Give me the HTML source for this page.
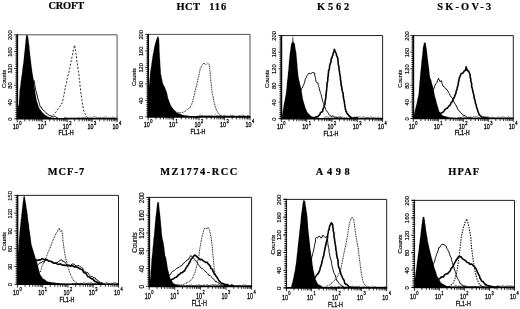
<!DOCTYPE html>
<html lang="en"><head><meta charset="utf-8"><title>Flow cytometry histograms</title>
<style>
html,body{margin:0;padding:0;background:#fff;}
body{width:520px;height:309px;overflow:hidden;}
svg{display:block;}
.tt{font-family:"Liberation Serif",serif;font-weight:bold;font-size:10.4px;fill:#000;stroke:#000;stroke-width:0.2px;}
.yl{font-family:"Liberation Sans",sans-serif;fill:#000;stroke:#000;stroke-width:0.16px;}
.xl{font-family:"Liberation Sans",sans-serif;fill:#000;stroke:#000;stroke-width:0.3px;}
.sup{font-size:4.7px;}
</style></head><body>
<svg width="520" height="309" viewBox="0 0 520 309">
<defs><filter id="b" x="-5%" y="-5%" width="110%" height="110%"><feGaussianBlur stdDeviation="0.42"/></filter></defs>
<rect width="520" height="309" fill="#fff"/>
<g filter="url(#b)">
<g class="plot">
<text class="tt" x="48.5" y="9.0" letter-spacing="-0.2">CROFT</text>
<path d="M17.4 118.8L17.4 119.2L17.4 117.2L17.4 115.2L17.5 113.3L17.4 111.1L17.4 109.0L17.6 106.9L18.9 104.7L19.1 102.8L19.1 100.6L19.2 98.8L19.4 96.9L19.5 94.7L19.6 93.2L19.6 91.2L19.9 89.0L20.2 87.6L20.5 85.4L20.7 83.5L20.8 81.7L21.2 79.9L21.3 77.8L21.6 76.1L22.0 74.2L22.2 72.5L22.3 70.7L22.6 68.7L22.8 66.8L23.1 65.0L23.5 62.8L23.6 61.2L23.8 59.0L24.1 56.9L24.2 54.8L24.4 53.0L24.7 51.1L24.9 49.1L25.1 46.9L25.3 44.6L25.5 42.7L25.7 40.4L25.9 38.5L26.1 37.0L26.3 35.1L27.8 35.4L28.0 36.9L28.3 38.5L28.5 40.4L28.7 42.3L28.9 44.2L29.3 46.1L29.3 48.0L29.6 49.6L29.7 51.5L30.0 53.4L30.2 55.7L30.4 57.4L30.6 59.3L30.9 61.2L31.0 63.1L31.3 64.9L31.5 66.5L31.8 68.6L32.0 70.5L32.3 72.5L32.6 74.3L32.9 76.0L33.2 77.9L33.5 79.3L33.8 81.4L34.0 83.2L34.2 85.1L34.6 87.0L34.7 88.8L35.0 90.8L35.2 92.9L35.7 95.0L35.9 96.5L36.2 98.3L36.5 100.0L37.1 102.0L37.8 103.9L38.3 106.1L39.1 108.1L40.0 109.5L41.0 110.5L41.9 111.9L43.3 113.2L44.7 114.7L46.0 115.6L48.0 116.7L50.0 117.5L52.0 117.8L54.0 118.1L56.0 118.3L58.0 118.7L60.0 118.8L62.1 118.9L64.0 118.8L64.0 118.8Z" fill="#000" stroke="#000" stroke-width="0.15" stroke-linejoin="round"/>
<path d="M64.0 118.0L64.9 117.4L66.5 118.1L67.8 117.8L69.0 118.1L70.2 118.1L71.6 117.8L72.4 118.1L73.5 117.8L75.0 118.1L76.6 118.1L77.5 117.8L78.6 117.4L80.2 118.1L81.3 117.4L82.5 117.4L83.5 118.1L84.4 117.0L85.5 117.0L86.5 118.1L87.9 118.1L89.5 117.4L90.4 117.0L91.8 118.1L93.1 117.0L94.5 117.0L95.9 117.0L97.0 117.8L98.2 117.8L99.8 117.4L101.2 118.1L102.7 117.4L103.7 117.4L105.1 117.0L106.6 117.0L107.6 118.1L108.9 117.8L109.8 117.8L111.2 118.1L112.6 117.0L114.1 117.8L115.3 118.1L116.6 117.0" fill="none" stroke="#000" stroke-width="0.6"/>
<path d="M50.0 117.7L51.0 117.0L51.9 116.4L53.1 115.4L54.0 114.3L54.7 113.5L55.7 112.1L56.4 111.5L57.3 110.0L58.0 108.9L58.7 108.1L59.5 107.2L60.2 106.1L60.8 105.1L61.4 104.0L62.3 102.9L62.5 101.8L62.8 100.5L63.2 99.1L63.3 97.7L63.6 96.6L63.8 95.5L64.1 94.4L64.3 93.1L64.5 91.8L64.8 90.7L65.0 89.1L65.2 88.1L65.5 86.8L65.7 85.4L66.0 84.4L66.4 83.4L66.6 82.1L66.9 80.6L67.0 79.3L67.3 78.2L67.6 76.8L67.8 76.1L68.3 74.5L68.5 73.5L68.9 72.3L69.2 71.2L69.6 69.9L69.7 68.5L69.9 67.6L70.2 66.2L70.4 65.2L70.6 63.9L71.0 62.6L71.1 61.3L71.3 60.1L71.6 58.8L71.9 57.8L72.1 56.2L72.5 55.0L72.7 54.1L72.9 52.3L73.2 51.3L73.3 49.9L73.8 48.8L74.0 47.4L74.3 46.0L74.6 45.2L74.8 46.2L75.1 48.0L75.3 49.1L75.6 50.4L75.8 51.8L75.9 53.2L76.1 54.3L76.3 55.5L76.4 57.1L76.5 58.3L76.6 59.6L76.8 60.6L77.0 61.6L77.1 62.9L77.5 64.2L77.6 65.7L77.7 67.1L78.0 68.2L78.1 69.4L78.4 70.5L78.4 71.8L78.7 73.0L78.9 74.3L79.1 75.8L79.3 77.2L79.2 78.2L79.4 79.4L79.6 80.8L79.8 82.4L79.9 83.5L80.0 84.9L80.1 86.3L80.4 87.9L80.5 88.9L80.6 90.1L80.7 91.7L80.9 92.8L81.1 94.1L81.3 95.6L81.5 96.9L81.7 97.8L81.8 99.3L82.0 100.5L82.2 101.6L82.3 102.9L82.5 104.4L82.7 105.7L83.0 106.9L83.2 108.3L83.4 109.6L83.6 111.0L84.3 111.9L84.8 113.3L85.3 114.2L85.8 115.4L86.2 116.2L87.4 117.3L88.3 118.0" fill="none" stroke="#000" stroke-width="0.9" stroke-dasharray="1.9 1.7" stroke-linejoin="round"/>
<path d="M33.8 80.0L34.1 80.9L34.5 82.1L34.6 83.4L34.8 85.5L35.2 86.8L35.4 87.6L35.5 88.9L35.8 90.6L36.3 91.9L36.3 92.0L36.8 93.8L37.0 94.8L37.4 96.3L37.6 98.2L37.9 98.6L38.4 100.1L38.8 101.4L39.2 103.2L39.6 104.3L39.7 105.2L40.3 106.9L41.0 106.6L41.7 108.0L42.5 109.6L43.4 110.4L44.1 110.4L45.0 111.6L46.2 112.9L47.2 114.0L48.2 114.6L49.4 115.4L50.7 115.6L52.2 116.5L53.4 116.9L54.4 116.3L55.6 116.7L56.8 117.7L58.0 118.0" fill="none" stroke="#000" stroke-width="0.95" stroke-linejoin="round"/>
<path d="M17.25 34.8H117.1V118.8" fill="none" stroke="#505050" stroke-width="1.0"/>
<path d="M17.25 34.3V118.8" fill="none" stroke="#000" stroke-width="1.75"/>
<path d="M16.45 118.8H117.6" fill="none" stroke="#000" stroke-width="1.6"/>
<path d="M14.2 118.8H17.2M15.3 116.7H17.2M15.3 114.6H17.2M15.3 112.5H17.2M15.3 110.4H17.2M15.3 108.3H17.2M15.3 106.2H17.2M15.3 104.1H17.2M14.2 102.0H17.2M15.3 99.9H17.2M15.3 97.8H17.2M15.3 95.7H17.2M15.3 93.6H17.2M15.3 91.5H17.2M15.3 89.4H17.2M15.3 87.3H17.2M14.2 85.2H17.2M15.3 83.1H17.2M15.3 81.0H17.2M15.3 78.9H17.2M15.3 76.8H17.2M15.3 74.7H17.2M15.3 72.6H17.2M15.3 70.5H17.2M14.2 68.4H17.2M15.3 66.3H17.2M15.3 64.2H17.2M15.3 62.1H17.2M15.3 60.0H17.2M15.3 57.9H17.2M15.3 55.8H17.2M15.3 53.7H17.2M14.2 51.6H17.2M15.3 49.5H17.2M15.3 47.4H17.2M15.3 45.3H17.2M15.3 43.2H17.2M15.3 41.1H17.2M15.3 39.0H17.2M15.3 36.9H17.2M14.2 34.8H17.2" stroke="#000" stroke-width="0.85" fill="none"/>
<path d="M17.2 118.8V122.2M24.8 118.8V121.3M29.2 118.8V121.3M32.3 118.8V121.3M34.7 118.8V121.3M36.7 118.8V121.3M38.3 118.8V121.3M39.8 118.8V121.3M41.1 118.8V121.3M42.2 118.8V122.2M49.7 118.8V121.3M54.1 118.8V121.3M57.2 118.8V121.3M59.7 118.8V121.3M61.6 118.8V121.3M63.3 118.8V121.3M64.8 118.8V121.3M66.0 118.8V121.3M67.2 118.8V122.2M74.7 118.8V121.3M79.1 118.8V121.3M82.2 118.8V121.3M84.6 118.8V121.3M86.6 118.8V121.3M88.3 118.8V121.3M89.7 118.8V121.3M91.0 118.8V121.3M92.1 118.8V122.2M99.7 118.8V121.3M104.0 118.8V121.3M107.2 118.8V121.3M109.6 118.8V121.3M111.6 118.8V121.3M113.2 118.8V121.3M114.7 118.8V121.3M116.0 118.8V121.3M117.1 118.8V122.2" stroke="#000" stroke-width="0.8" fill="none"/>
<text class="yl" font-size="5.7" transform="translate(12.3 35.2) rotate(-90)" text-anchor="middle">200</text>
<text class="yl" font-size="5.7" transform="translate(12.3 52.0) rotate(-90)" text-anchor="middle">160</text>
<text class="yl" font-size="5.7" transform="translate(12.3 68.8) rotate(-90)" text-anchor="middle">120</text>
<text class="yl" font-size="5.7" transform="translate(12.3 85.6) rotate(-90)" text-anchor="middle">80</text>
<text class="yl" font-size="5.7" transform="translate(12.3 102.4) rotate(-90)" text-anchor="middle">40</text>
<text class="yl" font-size="5.7" transform="translate(12.3 119.2) rotate(-90)" text-anchor="middle">0</text>
<text class="yl" font-size="5.7" transform="translate(5.5 78.9) rotate(-90)" text-anchor="middle">Counts</text>
<text class="xl" font-size="6.7" transform="translate(12.8 128.8) scale(0.806 1)">10<tspan font-size="5.0" dx="0.6" dy="-3.7">0</tspan></text>
<text class="xl" font-size="6.7" transform="translate(37.7 128.8) scale(0.806 1)">10<tspan font-size="5.0" dx="0.6" dy="-3.7">1</tspan></text>
<text class="xl" font-size="6.7" transform="translate(62.7 128.8) scale(0.806 1)">10<tspan font-size="5.0" dx="0.6" dy="-3.7">2</tspan></text>
<text class="xl" font-size="6.7" transform="translate(87.6 128.8) scale(0.806 1)">10<tspan font-size="5.0" dx="0.6" dy="-3.7">3</tspan></text>
<text class="xl" font-size="6.7" transform="translate(112.6 128.8) scale(0.806 1)">10<tspan font-size="5.0" dx="0.6" dy="-3.7">4</tspan></text>
<text class="xl" font-size="6.7" transform="translate(66.1 134.9) scale(0.806 1)" text-anchor="middle">FL1-H</text>
</g>
<g class="plot">
<text class="tt" x="176.5" y="10.0" letter-spacing="0.5">HCT <tspan x="209.2" letter-spacing="1.0">116</tspan></text>
<path d="M148.4 116.9L148.4 116.7L148.4 114.6L148.4 112.7L148.5 110.4L148.5 108.1L148.5 106.2L148.5 103.8L148.6 101.8L148.5 100.1L148.7 98.2L148.7 96.1L148.6 93.8L148.6 92.0L148.8 89.8L149.0 87.8L149.2 86.0L149.3 84.0L149.5 82.0L149.6 80.0L149.9 78.2L150.0 76.2L150.1 73.9L150.3 71.9L150.6 70.1L150.9 68.2L151.3 66.2L151.5 63.8L151.8 62.2L152.1 60.2L152.5 57.8L152.7 56.1L153.1 53.8L153.6 52.1L153.9 49.6L154.3 47.5L154.7 45.7L155.2 43.5L155.9 41.3L156.6 39.3L157.6 36.6L158.4 36.7L158.8 38.6L159.1 39.9L159.1 41.7L159.2 43.9L159.4 45.4L159.3 47.3L159.4 49.4L159.4 51.0L159.6 52.8L159.7 54.9L159.8 56.9L159.9 59.2L160.1 61.0L160.1 62.8L160.3 65.2L160.3 66.9L160.6 69.1L160.7 70.8L160.7 73.2L160.9 74.6L161.4 76.1L161.6 77.9L162.1 79.9L162.5 82.0L163.0 83.8L163.7 85.3L164.7 87.0L165.3 88.6L165.9 90.2L166.6 91.8L167.1 94.0L167.6 95.8L167.9 98.0L168.8 99.9L169.4 102.2L170.2 104.1L170.9 105.8L172.1 107.3L173.1 109.1L174.4 110.1L175.7 111.7L177.1 113.0L179.0 113.5L181.1 114.4L183.0 115.0L185.1 115.5L187.0 115.5L189.1 116.0L191.1 116.0L193.0 116.4L195.0 116.5L197.0 116.7L197.0 116.9Z" fill="#000" stroke="#000" stroke-width="0.15" stroke-linejoin="round"/>
<path d="M197.0 116.1L198.3 116.2L199.8 115.1L201.3 115.5L202.2 115.1L203.1 116.2L204.7 115.5L206.0 116.2L207.1 115.5L207.9 116.2L208.9 115.5L210.3 115.9L211.2 115.9L212.2 115.5L213.4 116.2L214.5 115.9L215.5 115.1L216.8 115.9L217.9 115.5L218.9 116.2L220.1 115.5L220.9 115.5L221.8 116.2L222.9 116.2L224.0 115.9L224.8 115.1L226.3 116.2L227.4 115.9L228.3 116.2L229.4 115.9L230.9 115.1L232.1 115.5L233.6 115.1L234.6 116.2L236.0 116.2L237.5 116.2L238.4 115.9L239.6 115.5L241.1 116.2L242.4 115.1L243.8 115.5L245.2 116.2L246.6 116.2L248.0 115.1L249.1 116.2" fill="none" stroke="#000" stroke-width="0.6"/>
<path d="M172.0 110.5L173.5 110.7L175.0 111.1L176.1 112.0L177.4 112.3L178.5 112.5L179.8 112.7L181.0 112.9L182.4 112.6L183.9 111.8L185.3 111.1L186.3 110.4L187.4 109.3L188.5 108.5L189.7 107.9L190.2 106.8L190.8 105.5L191.6 104.6L192.1 102.9L192.6 101.7L193.0 100.5L193.1 98.9L193.4 98.0L193.8 96.7L194.3 95.4L194.4 94.1L194.7 93.1L195.0 91.6L195.5 90.0L195.6 88.8L196.0 87.5L196.4 86.1L196.8 85.2L196.9 83.3L197.4 82.5L197.7 80.8L197.9 79.3L198.1 78.0L198.5 77.2L198.9 76.0L199.1 74.3L199.2 72.9L199.7 71.6L200.0 70.3L200.1 68.7L200.6 68.2L201.3 66.5L201.8 65.8L202.1 64.8L203.1 63.9L204.0 63.0L204.7 64.0L205.6 64.9L206.6 63.9L207.5 63.1L208.4 63.8L209.4 64.8L209.3 66.0L209.7 67.2L209.6 68.7L209.7 70.3L210.1 71.8L210.2 73.1L210.3 74.5L210.2 75.3L210.6 77.2L210.7 78.6L210.6 79.5L210.8 81.0L211.0 82.4L211.3 83.8L211.4 85.3L211.4 86.3L211.6 87.5L211.7 89.3L211.9 90.5L212.1 91.6L212.2 93.2L212.6 94.4L212.8 95.5L213.1 96.7L213.4 98.0L213.4 99.0L213.7 100.6L214.1 101.5L214.2 103.3L214.6 104.0L215.0 105.2L215.2 106.5L215.5 108.0L216.1 108.7L216.4 110.2L217.0 110.9L217.7 112.4L218.6 113.2L219.3 114.5L220.2 115.3L221.3 115.9L222.3 115.9L223.4 116.2L224.7 116.4L226.0 116.7" fill="none" stroke="#000" stroke-width="0.95" stroke-dasharray="1.0 0.75" stroke-linejoin="round"/>
<path d="M148.2 34.4H250.0V116.9" fill="none" stroke="#505050" stroke-width="1.0"/>
<path d="M148.2 33.9V116.9" fill="none" stroke="#000" stroke-width="1.75"/>
<path d="M147.39999999999998 116.9H250.5" fill="none" stroke="#000" stroke-width="1.6"/>
<path d="M145.2 116.9H148.2M146.3 114.8H148.2M146.3 112.8H148.2M146.3 110.7H148.2M146.3 108.7H148.2M146.3 106.6H148.2M146.3 104.5H148.2M146.3 102.5H148.2M145.2 100.4H148.2M146.3 98.3H148.2M146.3 96.3H148.2M146.3 94.2H148.2M146.3 92.2H148.2M146.3 90.1H148.2M146.3 88.0H148.2M146.3 86.0H148.2M145.2 83.9H148.2M146.3 81.8H148.2M146.3 79.8H148.2M146.3 77.7H148.2M146.3 75.7H148.2M146.3 73.6H148.2M146.3 71.5H148.2M146.3 69.5H148.2M145.2 67.4H148.2M146.3 65.3H148.2M146.3 63.3H148.2M146.3 61.2H148.2M146.3 59.2H148.2M146.3 57.1H148.2M146.3 55.0H148.2M146.3 53.0H148.2M145.2 50.9H148.2M146.3 48.8H148.2M146.3 46.8H148.2M146.3 44.7H148.2M146.3 42.7H148.2M146.3 40.6H148.2M146.3 38.5H148.2M146.3 36.5H148.2M145.2 34.4H148.2" stroke="#000" stroke-width="0.85" fill="none"/>
<path d="M148.2 116.9V120.3M155.9 116.9V119.4M160.3 116.9V119.4M163.5 116.9V119.4M166.0 116.9V119.4M168.0 116.9V119.4M169.7 116.9V119.4M171.2 116.9V119.4M172.5 116.9V119.4M173.6 116.9V120.3M181.3 116.9V119.4M185.8 116.9V119.4M189.0 116.9V119.4M191.4 116.9V119.4M193.5 116.9V119.4M195.2 116.9V119.4M196.6 116.9V119.4M197.9 116.9V119.4M199.1 116.9V120.3M206.8 116.9V119.4M211.2 116.9V119.4M214.4 116.9V119.4M216.9 116.9V119.4M218.9 116.9V119.4M220.6 116.9V119.4M222.1 116.9V119.4M223.4 116.9V119.4M224.6 116.9V120.3M232.2 116.9V119.4M236.7 116.9V119.4M239.9 116.9V119.4M242.3 116.9V119.4M244.4 116.9V119.4M246.1 116.9V119.4M247.5 116.9V119.4M248.8 116.9V119.4M250.0 116.9V120.3" stroke="#000" stroke-width="0.8" fill="none"/>
<text class="yl" font-size="5.7" transform="translate(142.8 34.8) rotate(-90)" text-anchor="middle">200</text>
<text class="yl" font-size="5.7" transform="translate(142.8 51.3) rotate(-90)" text-anchor="middle">160</text>
<text class="yl" font-size="5.7" transform="translate(142.8 67.8) rotate(-90)" text-anchor="middle">120</text>
<text class="yl" font-size="5.7" transform="translate(142.8 84.3) rotate(-90)" text-anchor="middle">80</text>
<text class="yl" font-size="5.7" transform="translate(142.8 100.8) rotate(-90)" text-anchor="middle">40</text>
<text class="yl" font-size="5.7" transform="translate(142.8 117.3) rotate(-90)" text-anchor="middle">0</text>
<text class="yl" font-size="5.7" transform="translate(136.4 77.1) rotate(-90)" text-anchor="middle">Counts</text>
<text class="xl" font-size="7.0" transform="translate(143.7 127.2) scale(0.771 1)">10<tspan font-size="5.2" dx="0.6" dy="-3.9">0</tspan></text>
<text class="xl" font-size="7.0" transform="translate(169.1 127.2) scale(0.771 1)">10<tspan font-size="5.2" dx="0.6" dy="-3.9">1</tspan></text>
<text class="xl" font-size="7.0" transform="translate(194.6 127.2) scale(0.771 1)">10<tspan font-size="5.2" dx="0.6" dy="-3.9">2</tspan></text>
<text class="xl" font-size="7.0" transform="translate(220.1 127.2) scale(0.771 1)">10<tspan font-size="5.2" dx="0.6" dy="-3.9">3</tspan></text>
<text class="xl" font-size="7.0" transform="translate(245.5 127.2) scale(0.771 1)">10<tspan font-size="5.2" dx="0.6" dy="-3.9">4</tspan></text>
<text class="xl" font-size="7.0" transform="translate(198.0 133.5) scale(0.771 1)" text-anchor="middle">FL1-H</text>
</g>
<g class="plot">
<text class="tt" x="317.1" y="10.4" letter-spacing="2.8">K562</text>
<path d="M282.0 118.7L282.0 117.9L282.2 116.1L282.3 114.4L282.7 112.0L283.1 110.1L283.4 108.2L283.7 106.1L284.0 103.8L284.5 101.8L284.9 99.8L285.2 97.8L285.6 95.9L285.9 94.2L286.3 91.8L286.3 90.0L286.7 88.2L286.8 85.8L287.0 83.8L287.1 82.1L287.3 80.1L287.7 77.8L287.8 76.0L288.0 74.0L288.1 71.9L288.5 70.1L288.6 68.2L288.7 65.9L288.9 64.1L289.0 61.8L289.3 59.9L289.4 58.2L289.7 55.8L289.8 54.0L290.1 51.9L290.5 49.9L290.7 47.8L291.0 45.8L291.3 43.8L292.5 41.4L292.6 39.5L292.7 37.8L293.0 36.2L293.1 38.0L293.3 39.6L293.2 41.4L294.8 44.1L295.0 45.8L295.3 48.1L295.6 49.9L296.0 51.8L296.4 54.2L296.4 56.0L296.7 57.9L296.8 60.2L297.0 61.9L297.2 64.0L297.4 65.9L297.4 68.2L297.7 69.9L297.9 71.9L298.0 74.0L298.3 76.1L298.6 77.9L299.0 80.1L299.5 81.8L299.9 84.0L300.5 86.0L300.9 88.0L301.4 90.2L301.6 91.8L302.0 93.4L302.2 95.1L302.4 96.6L302.7 98.5L303.0 99.8L303.7 102.2L304.3 104.2L304.9 106.0L305.4 107.9L306.2 109.7L307.0 111.7L308.0 113.0L309.0 114.2L311.0 115.9L313.0 117.2L314.7 117.5L316.3 117.8L318.0 118.2L320.0 118.5L322.0 118.7L324.0 118.5L324.0 118.7Z" fill="#000" stroke="#000" stroke-width="0.15" stroke-linejoin="round"/>
<path d="M324.0 117.9L324.9 116.9L326.0 116.9L327.4 116.9L328.3 117.7L329.6 116.9L330.9 116.9L332.1 116.9L333.6 118.0L335.0 117.3L336.2 116.9L337.1 118.0L338.4 116.9L339.7 116.9L341.1 116.9L342.4 117.3L343.7 117.3L345.0 118.0L346.3 117.7L347.4 118.0L348.6 116.9L349.7 117.3L350.7 118.0L351.7 118.0L353.0 117.7L354.2 116.9L355.5 117.7L356.9 117.3L358.2 116.9L359.4 116.9L360.7 117.3L361.7 118.0L363.0 116.9L364.3 116.9L365.8 117.7L367.0 117.3L367.9 117.3L369.4 118.0L370.5 116.9L372.0 117.3L373.4 117.3L374.7 118.0L375.7 117.3L376.6 118.0L377.6 117.3L378.5 116.9L379.7 118.0L380.5 118.0L381.6 118.0" fill="none" stroke="#000" stroke-width="0.6"/>
<path d="M299.5 93.0L300.2 91.6L301.0 90.2L301.7 88.4L302.3 88.0L302.6 86.9L303.4 85.6L304.2 83.6L304.5 82.7L304.9 81.1L305.1 79.8L305.5 78.7L306.0 78.0L306.7 76.4L307.0 75.8L308.1 74.1L308.9 73.4L309.9 73.3L310.8 73.8L312.0 72.7L312.8 72.5L314.8 73.2L314.7 75.1L315.0 76.4L315.5 77.7L315.6 78.3L315.7 79.8L316.1 81.6L316.8 82.8L318.2 83.2L318.2 84.4L318.7 85.5L318.6 86.6L319.2 87.5L319.2 88.6L319.7 90.1L320.2 91.9L320.4 92.6L320.7 93.6L321.1 94.4L321.5 96.3L321.9 98.0L322.2 99.4L322.4 99.7L322.7 101.6L323.2 102.6L323.6 103.6L324.2 105.4L324.5 106.5L325.1 107.1L325.4 109.0L325.8 109.8L326.1 110.5L327.2 111.3L327.9 112.6L328.6 114.0L329.6 115.2L330.0 115.5L331.6 116.3L333.0 115.8L334.5 116.9L335.6 117.3L336.8 117.2L338.4 118.0L339.5 117.7L340.5 117.6L342.0 118.1" fill="none" stroke="#000" stroke-width="0.95" stroke-linejoin="round"/>
<path d="M312.0 117.9L312.9 117.6L314.0 118.0L315.4 117.3L316.7 116.7L317.8 116.9L318.8 115.4L319.9 114.5L320.5 112.6L321.8 112.1L322.7 111.4L322.8 109.4L323.2 108.8L323.9 107.2L324.0 106.5L324.5 105.1L324.9 104.3L325.2 102.6L325.0 101.8L325.3 99.9L325.7 98.7L325.8 97.2L326.0 96.1L325.8 95.2L326.2 94.6L326.2 93.3L326.5 91.2L326.6 89.9L326.7 89.2L326.8 87.2L326.9 86.2L327.2 85.7L326.9 83.6L327.2 83.0L327.5 81.7L327.7 80.8L327.9 79.5L327.8 77.7L328.2 76.0L328.2 75.1L328.3 73.6L328.6 72.6L328.5 71.0L329.0 70.1L329.3 68.7L329.6 67.0L329.5 66.0L330.2 64.3L330.2 63.7L330.9 62.2L331.1 60.4L331.1 58.9L331.8 58.4L332.0 57.1L332.4 56.0L333.0 54.8L333.1 53.6L333.6 52.2L334.0 51.3L334.4 49.2L335.0 51.3L335.6 52.3L336.4 54.1L336.5 55.5L337.0 56.3L337.8 58.5L337.8 59.7L338.0 60.6L338.1 62.1L338.1 63.0L338.3 64.4L338.8 66.3L339.0 66.9L339.0 69.0L339.2 70.3L339.5 71.5L339.6 73.1L339.8 73.5L339.9 75.3L340.3 76.2L340.4 78.2L340.5 78.9L340.4 79.8L340.9 81.2L341.1 83.3L341.0 84.2L341.2 85.7L341.7 86.3L341.7 88.4L342.2 89.6L342.3 90.9L342.7 92.6L343.0 92.8L343.2 94.9L343.2 96.5L343.6 96.8L343.4 97.9L343.9 99.4L344.1 100.6L344.3 101.9L344.5 103.4L344.8 104.9L344.6 105.5L345.3 107.3L345.3 108.9L345.8 110.2L345.9 111.3L346.5 111.9L347.0 113.5L347.6 113.9L348.5 115.1L349.4 116.2L350.5 117.0L351.5 117.7L353.0 118.4L354.4 117.9L355.7 117.9L356.5 117.5L358.0 118.1" fill="none" stroke="#000" stroke-width="1.6" stroke-linejoin="round"/>
<path d="M281.35 35.55H382.6V118.7" fill="none" stroke="#222" stroke-width="1.0"/>
<path d="M281.35 35.05V118.7" fill="none" stroke="#000" stroke-width="1.75"/>
<path d="M280.55 118.7H383.1" fill="none" stroke="#000" stroke-width="1.6"/>
<path d="M278.4 118.7H281.4M279.4 116.6H281.4M279.4 114.5H281.4M279.4 112.5H281.4M279.4 110.4H281.4M279.4 108.3H281.4M279.4 106.2H281.4M279.4 104.1H281.4M278.4 102.1H281.4M279.4 100.0H281.4M279.4 97.9H281.4M279.4 95.8H281.4M279.4 93.8H281.4M279.4 91.7H281.4M279.4 89.6H281.4M279.4 87.5H281.4M278.4 85.4H281.4M279.4 83.4H281.4M279.4 81.3H281.4M279.4 79.2H281.4M279.4 77.1H281.4M279.4 75.0H281.4M279.4 73.0H281.4M279.4 70.9H281.4M278.4 68.8H281.4M279.4 66.7H281.4M279.4 64.7H281.4M279.4 62.6H281.4M279.4 60.5H281.4M279.4 58.4H281.4M279.4 56.3H281.4M279.4 54.3H281.4M278.4 52.2H281.4M279.4 50.1H281.4M279.4 48.0H281.4M279.4 45.9H281.4M279.4 43.9H281.4M279.4 41.8H281.4M279.4 39.7H281.4M279.4 37.6H281.4M278.4 35.5H281.4" stroke="#000" stroke-width="0.85" fill="none"/>
<path d="M281.4 118.7V122.1M289.0 118.7V121.2M293.4 118.7V121.2M296.6 118.7V121.2M299.0 118.7V121.2M301.0 118.7V121.2M302.7 118.7V121.2M304.2 118.7V121.2M305.5 118.7V121.2M306.7 118.7V122.1M314.3 118.7V121.2M318.7 118.7V121.2M321.9 118.7V121.2M324.4 118.7V121.2M326.4 118.7V121.2M328.1 118.7V121.2M329.5 118.7V121.2M330.8 118.7V121.2M332.0 118.7V122.1M339.6 118.7V121.2M344.1 118.7V121.2M347.2 118.7V121.2M349.7 118.7V121.2M351.7 118.7V121.2M353.4 118.7V121.2M354.8 118.7V121.2M356.1 118.7V121.2M357.3 118.7V122.1M364.9 118.7V121.2M369.4 118.7V121.2M372.5 118.7V121.2M375.0 118.7V121.2M377.0 118.7V121.2M378.7 118.7V121.2M380.1 118.7V121.2M381.4 118.7V121.2M382.6 118.7V122.1" stroke="#000" stroke-width="0.8" fill="none"/>
<text class="yl" font-size="5.7" transform="translate(275.5 35.9) rotate(-90)" text-anchor="middle">200</text>
<text class="yl" font-size="5.7" transform="translate(275.5 52.6) rotate(-90)" text-anchor="middle">160</text>
<text class="yl" font-size="5.7" transform="translate(275.5 69.2) rotate(-90)" text-anchor="middle">120</text>
<text class="yl" font-size="5.7" transform="translate(275.5 85.8) rotate(-90)" text-anchor="middle">80</text>
<text class="yl" font-size="5.7" transform="translate(275.5 102.5) rotate(-90)" text-anchor="middle">40</text>
<text class="yl" font-size="5.7" transform="translate(275.5 119.1) rotate(-90)" text-anchor="middle">0</text>
<text class="yl" font-size="5.7" transform="translate(268.8 78.9) rotate(-90)" text-anchor="middle">Counts</text>
<text class="xl" font-size="7.0" transform="translate(276.9 129.2) scale(0.771 1)">10<tspan font-size="5.2" dx="0.6" dy="-3.9">0</tspan></text>
<text class="xl" font-size="7.0" transform="translate(302.2 129.2) scale(0.771 1)">10<tspan font-size="5.2" dx="0.6" dy="-3.9">1</tspan></text>
<text class="xl" font-size="7.0" transform="translate(327.5 129.2) scale(0.771 1)">10<tspan font-size="5.2" dx="0.6" dy="-3.9">2</tspan></text>
<text class="xl" font-size="7.0" transform="translate(352.8 129.2) scale(0.771 1)">10<tspan font-size="5.2" dx="0.6" dy="-3.9">3</tspan></text>
<text class="xl" font-size="7.0" transform="translate(378.1 129.2) scale(0.771 1)">10<tspan font-size="5.2" dx="0.6" dy="-3.9">4</tspan></text>
<text class="xl" font-size="7.0" transform="translate(330.9 135.8) scale(0.771 1)" text-anchor="middle">FL1-H</text>
</g>
<g class="plot">
<text class="tt" x="437.2" y="10.0" letter-spacing="2.2">SK-OV-3</text>
<path d="M413.8 118.5L413.8 117.9L413.9 116.2L414.1 114.8L414.5 112.4L415.0 110.2L415.5 108.4L416.0 106.2L416.6 103.9L417.0 102.2L417.4 99.8L417.9 97.8L418.3 96.2L418.6 94.2L418.8 92.2L419.0 89.9L419.2 88.0L419.3 86.0L419.5 83.9L419.6 81.9L419.9 80.2L420.0 78.2L420.2 76.0L420.4 73.8L420.5 72.0L420.8 69.9L421.0 67.9L421.2 66.1L421.4 63.8L421.5 61.9L421.8 59.8L422.0 57.8L422.2 56.2L422.5 54.1L422.5 51.8L422.9 50.2L422.9 48.1L423.4 46.2L423.7 44.7L424.0 42.7L425.5 42.7L425.9 44.4L426.1 46.3L426.4 47.9L426.7 50.0L426.9 51.9L427.1 53.9L427.4 55.8L427.5 57.8L427.8 59.8L428.1 62.0L428.3 63.8L428.5 65.9L428.9 67.8L429.0 69.8L429.3 71.9L429.5 73.8L429.8 75.9L430.0 77.8L431.1 80.0L431.5 82.0L432.0 84.1L432.6 85.8L433.2 88.2L433.7 89.9L434.0 91.8L434.3 93.4L434.6 94.9L435.0 96.7L435.5 98.4L436.1 100.3L436.5 102.5L437.1 104.6L437.8 106.7L438.4 108.7L438.9 111.0L440.3 112.8L441.6 114.4L443.0 115.8L444.9 116.2L447.0 116.8L449.1 117.6L451.0 117.7L452.8 117.8L454.6 117.9L456.2 118.1L458.0 118.1L458.0 118.5Z" fill="#000" stroke="#000" stroke-width="0.15" stroke-linejoin="round"/>
<path d="M458.0 117.7L459.6 117.1L461.1 117.8L462.5 116.7L463.9 117.1L465.0 117.5L466.5 117.8L467.7 117.8L468.7 117.8L469.5 117.8L470.9 116.7L472.1 117.8L473.5 116.7L474.9 117.1L475.9 116.7L477.3 116.7L478.3 117.5L479.3 117.8L480.8 116.7L482.0 117.5L483.4 117.8L484.8 116.7L486.3 117.1L487.5 116.7L488.6 117.1L490.0 117.8L491.2 117.5L492.7 117.1L494.2 117.8L495.7 117.8L496.8 117.8L498.3 116.7L499.8 117.8L501.1 117.5L501.9 117.1L503.2 117.1L504.3 117.1L505.3 117.8L506.3 117.8L507.3 117.5L508.8 116.7L509.8 117.8L511.1 117.8L512.7 117.8" fill="none" stroke="#000" stroke-width="0.6"/>
<path d="M432.0 92.0L432.7 90.5L433.6 88.7L434.2 88.4L434.5 86.5L435.1 85.0L436.0 83.7L436.7 82.8L437.0 82.2L437.5 80.4L438.2 79.1L438.5 78.1L439.1 80.0L439.8 81.0L439.9 81.7L441.4 80.6L441.9 82.7L442.0 83.5L442.6 84.9L442.9 86.0L444.2 87.0L445.5 88.0L446.2 89.6L447.1 89.8L448.0 91.2L448.6 92.8L449.5 93.7L450.1 95.6L451.2 97.0L451.9 97.4L452.7 99.2L453.2 100.4L453.7 101.4L454.6 103.2L455.0 104.0L455.7 104.7L456.4 106.0L457.0 107.2L457.6 109.1L458.2 109.9L459.2 111.0L460.2 112.0L461.0 112.9L462.0 114.1L462.9 115.1L464.0 115.3L465.0 115.7L466.4 116.7L467.6 117.4L468.6 117.3L469.7 117.5L471.0 117.9" fill="none" stroke="#000" stroke-width="0.95" stroke-linejoin="round"/>
<path d="M433.0 117.2L434.2 116.1L435.3 116.8L436.5 115.7L437.9 115.5L439.2 114.8L439.9 114.2L441.1 113.1L441.9 112.7L443.0 112.1L443.8 111.3L444.6 109.9L445.6 109.2L446.5 108.3L447.5 108.1L448.3 106.7L449.4 105.6L449.9 105.5L450.8 103.6L451.0 102.7L451.8 101.9L452.4 101.4L453.2 99.5L453.7 98.3L454.2 97.7L454.4 97.1L454.9 95.8L455.1 94.8L456.0 93.1L456.1 91.5L456.4 90.6L456.7 90.3L457.0 88.9L457.2 87.8L457.9 85.7L458.1 84.4L458.3 83.2L458.5 82.0L458.8 81.0L459.1 78.9L459.2 77.7L459.9 77.0L460.4 75.4L461.2 73.6L462.1 73.3L463.1 72.9L464.0 71.3L464.7 70.4L465.7 70.4L465.8 68.4L466.2 67.6L466.1 66.9L466.3 67.2L466.7 68.9L467.1 69.4L467.7 71.0L468.6 71.1L469.3 72.6L469.5 73.4L470.0 74.7L470.2 76.9L470.3 77.8L470.8 78.7L470.7 80.5L471.0 81.3L471.4 82.9L471.7 83.7L471.6 85.2L471.8 86.9L472.3 88.6L472.5 89.5L472.9 91.0L472.8 91.8L473.4 93.2L473.5 93.9L473.9 95.0L474.0 96.8L474.2 98.1L474.6 99.4L475.0 100.3L475.3 101.3L475.3 102.9L475.8 104.0L476.2 105.1L476.6 107.3L476.8 108.1L477.4 109.3L477.8 110.9L478.3 112.3L478.5 112.8L479.1 114.5L480.2 115.6L481.3 116.4L482.2 117.4L483.4 117.4L484.8 117.6L486.1 117.7L487.7 118.3L489.0 118.3" fill="none" stroke="#000" stroke-width="1.6" stroke-linejoin="round"/>
<path d="M413.3 35.6H513.3V118.5" fill="none" stroke="#222" stroke-width="1.0"/>
<path d="M413.3 35.1V118.5" fill="none" stroke="#000" stroke-width="1.75"/>
<path d="M412.5 118.5H513.8" fill="none" stroke="#000" stroke-width="1.6"/>
<path d="M410.3 118.5H413.3M411.4 116.4H413.3M411.4 114.4H413.3M411.4 112.3H413.3M411.4 110.2H413.3M411.4 108.1H413.3M411.4 106.1H413.3M411.4 104.0H413.3M410.3 101.9H413.3M411.4 99.8H413.3M411.4 97.8H413.3M411.4 95.7H413.3M411.4 93.6H413.3M411.4 91.6H413.3M411.4 89.5H413.3M411.4 87.4H413.3M410.3 85.3H413.3M411.4 83.3H413.3M411.4 81.2H413.3M411.4 79.1H413.3M411.4 77.0H413.3M411.4 75.0H413.3M411.4 72.9H413.3M411.4 70.8H413.3M410.3 68.8H413.3M411.4 66.7H413.3M411.4 64.6H413.3M411.4 62.5H413.3M411.4 60.5H413.3M411.4 58.4H413.3M411.4 56.3H413.3M411.4 54.3H413.3M410.3 52.2H413.3M411.4 50.1H413.3M411.4 48.0H413.3M411.4 46.0H413.3M411.4 43.9H413.3M411.4 41.8H413.3M411.4 39.7H413.3M411.4 37.7H413.3M410.3 35.6H413.3" stroke="#000" stroke-width="0.85" fill="none"/>
<path d="M413.3 118.5V121.9M420.8 118.5V121.0M425.2 118.5V121.0M428.4 118.5V121.0M430.8 118.5V121.0M432.8 118.5V121.0M434.4 118.5V121.0M435.9 118.5V121.0M437.2 118.5V121.0M438.3 118.5V121.9M445.8 118.5V121.0M450.2 118.5V121.0M453.4 118.5V121.0M455.8 118.5V121.0M457.8 118.5V121.0M459.4 118.5V121.0M460.9 118.5V121.0M462.2 118.5V121.0M463.3 118.5V121.9M470.8 118.5V121.0M475.2 118.5V121.0M478.4 118.5V121.0M480.8 118.5V121.0M482.8 118.5V121.0M484.4 118.5V121.0M485.9 118.5V121.0M487.2 118.5V121.0M488.3 118.5V121.9M495.8 118.5V121.0M500.2 118.5V121.0M503.4 118.5V121.0M505.8 118.5V121.0M507.8 118.5V121.0M509.4 118.5V121.0M510.9 118.5V121.0M512.2 118.5V121.0M513.3 118.5V121.9" stroke="#000" stroke-width="0.8" fill="none"/>
<text class="yl" font-size="5.7" transform="translate(408.8 36.0) rotate(-90)" text-anchor="middle">200</text>
<text class="yl" font-size="5.7" transform="translate(408.8 52.6) rotate(-90)" text-anchor="middle">160</text>
<text class="yl" font-size="5.7" transform="translate(408.8 69.2) rotate(-90)" text-anchor="middle">120</text>
<text class="yl" font-size="5.7" transform="translate(408.8 85.7) rotate(-90)" text-anchor="middle">80</text>
<text class="yl" font-size="5.7" transform="translate(408.8 102.3) rotate(-90)" text-anchor="middle">40</text>
<text class="yl" font-size="5.7" transform="translate(408.8 118.9) rotate(-90)" text-anchor="middle">0</text>
<text class="yl" font-size="5.7" transform="translate(402.3 78.7) rotate(-90)" text-anchor="middle">Counts</text>
<text class="xl" font-size="6.7" transform="translate(408.8 128.7) scale(0.806 1)">10<tspan font-size="5.0" dx="0.6" dy="-3.7">0</tspan></text>
<text class="xl" font-size="6.7" transform="translate(433.8 128.7) scale(0.806 1)">10<tspan font-size="5.0" dx="0.6" dy="-3.7">1</tspan></text>
<text class="xl" font-size="6.7" transform="translate(458.8 128.7) scale(0.806 1)">10<tspan font-size="5.0" dx="0.6" dy="-3.7">2</tspan></text>
<text class="xl" font-size="6.7" transform="translate(483.8 128.7) scale(0.806 1)">10<tspan font-size="5.0" dx="0.6" dy="-3.7">3</tspan></text>
<text class="xl" font-size="6.7" transform="translate(508.8 128.7) scale(0.806 1)">10<tspan font-size="5.0" dx="0.6" dy="-3.7">4</tspan></text>
<text class="xl" font-size="6.7" transform="translate(462.2 134.9) scale(0.806 1)" text-anchor="middle">FL1-H</text>
</g>
<g class="plot">
<text class="tt" x="47.8" y="175.0" letter-spacing="1.0">MCF-7</text>
<path d="M17.6 284.3L17.6 283.5L17.6 281.3L17.7 279.6L17.6 277.5L17.7 275.8L17.7 273.6L17.7 271.7L17.6 269.6L17.6 268.0L17.7 265.7L17.6 263.9L17.7 261.9L17.7 259.8L17.7 257.8L17.8 255.8L18.0 254.2L18.2 252.2L18.4 250.3L18.4 248.6L18.6 246.8L18.6 244.8L18.9 243.2L19.0 240.8L19.2 238.9L19.3 237.0L19.4 235.2L19.6 232.9L19.8 231.1L20.0 229.0L20.3 227.0L20.4 225.0L20.6 223.0L20.8 221.0L21.0 219.0L21.4 217.2L21.4 214.8L21.7 213.1L22.0 210.8L22.1 209.2L22.4 206.9L22.6 205.2L22.8 203.1L23.1 201.4L23.3 199.4L23.5 197.7L23.7 196.6L24.7 196.3L24.9 197.9L25.1 199.3L25.4 201.2L25.8 203.4L26.1 204.9L26.3 207.2L26.6 209.1L27.0 211.0L27.3 213.2L27.6 215.0L27.7 216.9L28.0 219.2L28.2 221.1L28.6 223.2L28.9 224.9L29.0 227.0L29.2 228.9L29.6 230.9L29.8 232.8L30.1 235.0L30.5 236.9L30.7 238.9L30.9 241.0L31.2 242.9L31.5 245.1L32.1 247.0L32.7 248.9L33.3 250.6L33.8 252.7L34.3 254.3L34.9 256.1L35.5 258.2L36.1 259.5L36.6 261.7L37.2 263.0L37.7 265.0L38.2 266.9L38.5 268.7L39.1 270.6L39.6 272.3L40.1 274.5L41.2 275.9L42.1 277.4L43.1 278.8L44.7 279.6L46.2 280.7L47.9 281.8L50.1 282.1L52.1 282.5L54.0 282.6L56.1 283.0L57.9 283.0L60.1 283.6L62.1 283.7L64.1 283.7L66.1 283.9L68.0 283.8L70.1 284.1L72.0 284.1L72.0 284.3Z" fill="#000" stroke="#000" stroke-width="0.15" stroke-linejoin="round"/>
<path d="M72.0 283.5L73.6 283.6L75.0 283.6L76.1 283.6L77.4 283.6L79.0 283.6L80.5 283.6L81.3 283.3L82.4 283.6L83.9 282.5L84.9 283.3L86.5 283.6L87.8 282.9L88.6 282.9L89.9 283.3L91.4 282.5L92.3 283.6L93.5 283.6L95.0 283.3L96.2 283.3L97.8 283.3L99.1 282.5L100.0 283.6L100.9 282.9L102.3 282.5L103.5 283.6L105.0 283.6L106.0 282.5L106.9 282.5L108.0 283.6L109.2 283.6L110.5 283.6L111.3 283.6L112.2 283.6L113.1 282.9L114.3 282.9L115.7 282.5L116.8 283.6L118.0 283.3" fill="none" stroke="#000" stroke-width="0.6"/>
<path d="M40.5 272.0L40.7 270.9L41.2 269.6L41.5 267.8L41.9 266.3L42.6 265.4L43.1 263.8L43.6 262.7L44.1 261.8L44.8 260.2L45.4 259.5L45.9 258.2L46.6 256.8L46.9 255.2L47.4 253.7L48.0 252.6L48.5 251.7L48.9 250.4L49.6 248.9L50.2 247.9L50.5 246.6L51.0 245.3L51.6 243.7L52.0 242.5L52.7 241.2L53.0 240.1L53.6 239.0L54.1 237.5L54.7 236.4L55.1 235.3L56.1 233.8L56.6 232.3L57.5 231.7L57.9 230.0L58.6 229.3L59.1 228.3L59.5 228.9L59.9 230.3L60.3 231.5L61.9 230.6L62.1 231.7L62.2 233.1L62.5 235.0L62.6 236.3L62.8 236.9L63.0 238.6L62.8 239.3L63.0 241.0L63.1 241.7L63.4 243.5L63.6 245.0L63.7 246.0L63.8 247.2L64.1 249.0L64.2 250.0L64.5 251.4L64.6 252.8L64.9 254.1L65.1 255.4L65.3 256.5L65.8 258.1L66.0 259.6L66.2 260.6L66.7 262.1L67.0 263.2L67.3 264.9L67.6 266.1L68.0 267.4L68.6 268.3L69.0 270.2L69.2 271.6L69.7 272.4L70.3 274.1L70.8 275.4L71.4 276.3L72.0 277.6L72.7 278.7L73.3 279.9L74.2 281.3L75.1 281.8L76.2 282.6L77.1 283.3L78.4 283.6L79.7 283.8L80.7 283.4L82.0 283.9" fill="none" stroke="#000" stroke-width="0.95" stroke-dasharray="1.0 0.75" stroke-linejoin="round"/>
<path d="M35.0 262.0L35.7 260.8L36.4 260.1L37.6 260.5L38.9 259.8L40.5 260.0L42.0 258.6L43.4 259.4L44.9 259.6L46.2 259.4L47.2 259.7L48.1 260.6L49.3 261.2L50.8 261.2L51.8 261.7L52.9 262.3L54.0 263.2L55.3 263.0L57.0 263.9L58.2 264.5L59.9 263.9L61.2 264.2L62.3 265.3L63.5 265.1L65.1 265.4L66.1 265.2L67.7 265.6L69.2 265.3L70.5 266.4L71.9 265.7L73.1 265.9L74.5 267.0L75.9 266.9L77.4 267.3L79.0 268.3L80.4 269.0L81.5 269.5L82.3 269.8L83.2 271.2L83.8 272.6L84.8 272.9L85.8 273.3L86.4 274.2L87.2 275.6L88.0 276.7L88.8 276.7L90.2 277.9L91.7 278.9L92.7 278.8L93.9 280.5L95.2 281.5L96.5 281.7L97.8 282.8L99.1 282.8L100.3 283.8L101.5 283.3L103.0 283.9" fill="none" stroke="#000" stroke-width="1.6" stroke-linejoin="round"/>
<path d="M37.0 267.0L37.5 265.5L38.2 264.7L39.0 263.6L40.0 262.8L41.2 262.7L42.2 262.0L42.9 261.2L44.0 262.5L45.1 260.3L45.9 260.0L46.8 259.8L47.9 261.1L48.8 260.7L49.8 261.2L51.0 261.7L51.9 262.8L53.4 263.1L54.9 263.3L56.4 262.5L58.0 262.3L59.2 260.9L59.9 260.7L61.0 259.7L61.9 259.9L62.8 261.7L63.9 261.2L64.8 262.0L65.9 263.6L66.5 264.3L67.2 265.5L68.3 265.2L70.1 265.4L71.1 265.4L71.8 264.0L72.9 263.9L74.1 264.3L75.1 265.0L76.0 266.1L77.7 265.6L79.1 265.6L80.0 266.7L81.0 266.9L81.9 267.8L83.0 268.4L83.3 270.5L84.1 270.6L84.9 271.8L86.5 272.3L87.8 272.6L88.8 274.3L89.8 275.4L90.8 276.6L92.2 276.5L93.1 277.4L94.2 277.7L95.2 277.8L95.8 279.5L97.2 279.8L98.2 281.0L99.1 281.2L99.9 282.2L100.9 283.5L102.0 283.7" fill="none" stroke="#000" stroke-width="0.95" stroke-linejoin="round"/>
<path d="M17.45 195.4H118.5V284.3" fill="none" stroke="#222" stroke-width="1.0"/>
<path d="M17.45 194.9V284.3" fill="none" stroke="#000" stroke-width="1.75"/>
<path d="M16.65 284.3H119.0" fill="none" stroke="#000" stroke-width="1.6"/>
<path d="M14.4 284.3H17.4M15.5 282.1H17.4M15.5 279.9H17.4M15.5 277.6H17.4M15.5 275.4H17.4M15.5 273.2H17.4M15.5 271.0H17.4M15.5 268.7H17.4M14.4 266.5H17.4M15.5 264.3H17.4M15.5 262.1H17.4M15.5 259.9H17.4M15.5 257.6H17.4M15.5 255.4H17.4M15.5 253.2H17.4M15.5 251.0H17.4M14.4 248.7H17.4M15.5 246.5H17.4M15.5 244.3H17.4M15.5 242.1H17.4M15.5 239.9H17.4M15.5 237.6H17.4M15.5 235.4H17.4M15.5 233.2H17.4M14.4 231.0H17.4M15.5 228.7H17.4M15.5 226.5H17.4M15.5 224.3H17.4M15.5 222.1H17.4M15.5 219.8H17.4M15.5 217.6H17.4M15.5 215.4H17.4M14.4 213.2H17.4M15.5 211.0H17.4M15.5 208.7H17.4M15.5 206.5H17.4M15.5 204.3H17.4M15.5 202.1H17.4M15.5 199.8H17.4M15.5 197.6H17.4M14.4 195.4H17.4" stroke="#000" stroke-width="0.85" fill="none"/>
<path d="M17.4 284.3V287.7M25.1 284.3V286.8M29.5 284.3V286.8M32.7 284.3V286.8M35.1 284.3V286.8M37.1 284.3V286.8M38.8 284.3V286.8M40.3 284.3V286.8M41.6 284.3V286.8M42.7 284.3V287.7M50.3 284.3V286.8M54.8 284.3V286.8M57.9 284.3V286.8M60.4 284.3V286.8M62.4 284.3V286.8M64.1 284.3V286.8M65.5 284.3V286.8M66.8 284.3V286.8M68.0 284.3V287.7M75.6 284.3V286.8M80.0 284.3V286.8M83.2 284.3V286.8M85.6 284.3V286.8M87.6 284.3V286.8M89.3 284.3V286.8M90.8 284.3V286.8M92.1 284.3V286.8M93.2 284.3V287.7M100.8 284.3V286.8M105.3 284.3V286.8M108.4 284.3V286.8M110.9 284.3V286.8M112.9 284.3V286.8M114.6 284.3V286.8M116.1 284.3V286.8M117.3 284.3V286.8M118.5 284.3V287.7" stroke="#000" stroke-width="0.8" fill="none"/>
<text class="yl" font-size="5.8" transform="translate(12.4 195.8) rotate(-90)" text-anchor="middle">150</text>
<text class="yl" font-size="5.8" transform="translate(12.4 213.6) rotate(-90)" text-anchor="middle">120</text>
<text class="yl" font-size="5.8" transform="translate(12.4 231.4) rotate(-90)" text-anchor="middle">90</text>
<text class="yl" font-size="5.8" transform="translate(12.4 249.1) rotate(-90)" text-anchor="middle">60</text>
<text class="yl" font-size="5.8" transform="translate(12.4 266.9) rotate(-90)" text-anchor="middle">30</text>
<text class="yl" font-size="5.8" transform="translate(12.4 284.7) rotate(-90)" text-anchor="middle">0</text>
<text class="yl" font-size="5.8" transform="translate(5.7 241.2) rotate(-90)" text-anchor="middle">Counts</text>
<text class="xl" font-size="7.4" transform="translate(12.9 295.1) scale(0.730 1)">10<tspan font-size="5.5" dx="0.7" dy="-4.1">0</tspan></text>
<text class="xl" font-size="7.4" transform="translate(38.2 295.1) scale(0.730 1)">10<tspan font-size="5.5" dx="0.7" dy="-4.1">1</tspan></text>
<text class="xl" font-size="7.4" transform="translate(63.5 295.1) scale(0.730 1)">10<tspan font-size="5.5" dx="0.7" dy="-4.1">2</tspan></text>
<text class="xl" font-size="7.4" transform="translate(88.7 295.1) scale(0.730 1)">10<tspan font-size="5.5" dx="0.7" dy="-4.1">3</tspan></text>
<text class="xl" font-size="7.4" transform="translate(114.0 295.1) scale(0.730 1)">10<tspan font-size="5.5" dx="0.7" dy="-4.1">4</tspan></text>
<text class="xl" font-size="7.4" transform="translate(66.9 301.7) scale(0.730 1)" text-anchor="middle">FL1-H</text>
</g>
<g class="plot">
<text class="tt" x="160.2" y="175.2" letter-spacing="1.5">MZ1774-RCC</text>
<path d="M150.0 286.4L150.0 285.8L149.9 284.3L149.9 282.4L150.1 280.5L150.3 278.4L150.6 276.4L150.6 274.0L150.7 272.3L150.9 270.0L151.2 268.3L151.2 266.2L151.4 264.3L151.5 261.9L151.6 260.0L151.8 258.1L152.1 256.0L152.2 254.1L152.5 252.2L152.7 250.0L152.7 247.8L153.1 245.8L153.2 244.1L153.4 241.9L153.5 240.2L153.7 237.8L154.1 236.0L154.2 234.0L154.3 232.0L154.5 230.2L154.7 227.9L154.9 226.2L155.0 224.2L155.2 222.0L155.5 220.2L155.5 218.0L155.8 216.0L156.1 214.4L156.2 212.5L156.5 210.4L156.6 209.0L156.9 207.0L157.1 204.8L157.6 202.0L158.7 202.2L159.0 204.7L159.2 207.1L159.3 208.6L159.6 210.5L159.8 212.3L160.0 214.3L160.2 216.0L160.4 218.2L160.6 220.2L160.8 221.8L160.9 223.9L161.0 226.0L161.4 227.9L161.5 229.9L161.6 232.1L161.8 233.9L162.0 236.1L162.3 237.8L162.8 240.2L163.3 241.8L163.6 244.0L163.9 246.2L164.2 247.8L164.4 250.1L164.7 252.0L164.9 253.9L165.1 255.8L166.0 257.8L166.4 260.2L166.7 262.0L167.0 264.1L167.3 265.9L167.6 268.0L168.0 270.0L168.5 271.8L169.0 274.1L169.6 276.2L170.0 278.1L170.9 279.7L172.1 281.5L173.1 283.1L175.1 284.2L177.0 284.6L179.0 285.4L180.8 285.8L182.6 285.8L184.2 285.8L186.0 286.0L186.0 286.4Z" fill="#000" stroke="#000" stroke-width="0.15" stroke-linejoin="round"/>
<path d="M186.0 285.6L187.5 285.4L188.8 285.7L190.3 285.4L191.5 284.6L192.6 285.7L194.1 285.7L195.5 285.7L196.4 285.0L197.5 285.7L198.9 284.6L200.0 285.0L201.2 285.7L202.6 285.7L203.9 284.6L205.4 285.7L207.0 284.6L208.5 285.4L210.0 285.7L211.6 285.0L213.1 284.6L214.4 285.0L215.8 284.6L216.9 285.4L218.5 284.6L219.9 285.7L221.1 285.4L222.2 285.4L223.4 285.7L224.7 285.0L226.2 284.6L227.6 284.6L228.5 285.7L229.8 285.7L230.9 285.0L232.0 284.6L233.2 285.7L234.6 285.7L235.9 285.7L237.0 285.4L238.0 285.7L239.3 285.4L240.5 285.7L242.0 285.7L243.5 285.0L244.9 285.0L246.4 285.4L247.3 285.7L248.3 285.7L249.3 285.7L250.8 285.7" fill="none" stroke="#000" stroke-width="0.6"/>
<path d="M176.0 285.6L177.4 285.1L178.9 284.9L180.2 284.7L181.7 284.9L183.1 284.5L184.4 283.9L185.7 283.2L186.9 282.9L188.1 282.2L189.2 281.5L190.2 280.7L191.3 280.1L192.1 279.1L192.8 277.8L193.1 276.6L193.6 275.4L194.2 274.6L194.8 273.0L195.2 272.0L195.4 270.9L195.8 269.2L196.2 268.3L196.4 266.7L196.8 265.2L197.3 264.2L197.4 262.9L197.6 261.3L197.9 260.2L198.4 259.0L198.5 257.6L198.9 256.3L199.1 254.5L199.3 253.2L199.3 252.1L199.4 251.0L199.7 249.9L199.9 248.2L200.0 247.3L200.3 246.0L200.5 245.1L200.8 243.3L200.9 242.2L201.2 240.9L201.5 239.6L201.7 238.4L201.9 237.1L202.2 236.1L202.4 234.8L202.9 233.8L203.2 232.3L203.4 231.1L203.8 230.0L204.1 228.9L205.6 227.9L206.7 229.1L207.2 228.2L208.0 227.3L209.2 229.3L209.5 230.3L209.9 231.1L209.9 232.8L210.4 233.4L210.4 235.1L210.7 235.9L211.0 237.0L211.2 238.2L211.5 239.6L211.6 241.3L211.7 242.0L211.8 243.2L212.1 244.5L212.1 246.3L212.4 247.5L212.5 248.9L212.4 250.0L212.6 251.0L212.6 252.5L212.9 253.7L212.9 255.3L213.1 256.8L213.3 258.0L213.4 259.3L213.4 260.6L213.5 262.1L213.6 262.9L213.9 264.2L213.9 265.4L214.0 266.8L214.1 268.3L214.3 269.4L214.7 271.1L214.8 272.2L215.0 273.4L215.2 275.0" fill="none" stroke="#000" stroke-width="0.95" stroke-dasharray="1.0 0.75" stroke-linejoin="round"/>
<path d="M167.0 279.0L167.3 278.3L167.9 277.4L168.6 275.4L169.7 275.0L170.7 274.4L171.5 272.5L172.3 271.5L173.0 271.0L173.9 270.8L175.2 269.5L175.9 269.1L176.9 268.2L178.0 267.6L179.0 267.5L180.1 266.2L180.9 265.9L182.1 265.4L183.0 263.7L183.9 263.2L185.1 262.2L186.1 261.1L187.1 259.9L188.1 259.8L188.9 259.1L189.3 257.7L190.0 256.4L191.1 255.6L192.2 257.0L193.0 257.5L193.8 258.4L194.3 259.6L195.2 260.4L196.1 260.7L197.0 262.2L197.6 263.1L198.6 264.8L199.3 265.7L200.3 267.1L201.1 268.2L202.2 268.3L203.2 269.4L204.1 270.3L204.9 271.0L205.9 271.8L207.0 272.8L208.0 273.8L208.9 275.5L210.2 275.5L210.9 276.4L212.1 277.5L213.2 278.9L214.0 279.6L215.0 280.5L215.8 281.9L217.0 281.7L217.9 282.7L219.1 283.4L220.2 284.2L221.7 284.2L222.6 284.3L224.2 285.3L225.3 285.8L226.4 285.5L227.6 285.4L229.0 286.0" fill="none" stroke="#000" stroke-width="0.95" stroke-linejoin="round"/>
<path d="M168.5 281.1L169.6 280.2L171.0 280.4L171.9 279.2L172.9 279.1L173.8 278.6L174.9 277.5L176.2 277.3L177.2 276.4L178.1 275.2L178.8 274.7L179.8 274.2L180.9 272.8L182.1 272.6L182.9 272.0L184.2 271.0L184.9 270.5L185.5 268.7L186.2 267.9L186.8 266.7L187.3 266.0L188.3 265.0L188.8 263.6L189.4 262.7L190.2 261.5L190.8 259.5L191.8 258.5L192.7 257.5L193.3 256.6L194.2 255.4L195.2 255.3L195.7 255.4L196.5 256.5L197.4 257.2L198.7 258.4L200.0 259.6L201.4 259.4L202.4 260.0L203.4 260.9L204.6 261.6L205.9 262.5L207.3 262.4L208.1 263.9L209.2 264.9L210.2 266.2L211.0 268.5L212.0 268.8L212.7 270.0L213.1 271.6L213.7 272.5L214.4 274.2L215.1 274.6L215.8 275.9L216.7 276.8L217.3 278.0L218.0 278.8L218.6 280.3L219.3 281.1L219.9 281.5L220.7 282.7L221.7 283.5L222.8 283.4L224.0 284.0L225.4 285.0L226.5 284.4L228.2 285.0L229.0 286.1L230.6 285.9L231.5 285.2L232.9 285.5L234.0 286.0" fill="none" stroke="#000" stroke-width="1.6" stroke-linejoin="round"/>
<path d="M149.25 197.4H251.6V286.4" fill="none" stroke="#222" stroke-width="1.0"/>
<path d="M149.25 196.9V286.4" fill="none" stroke="#000" stroke-width="1.75"/>
<path d="M148.45 286.4H252.1" fill="none" stroke="#000" stroke-width="1.6"/>
<path d="M146.2 286.4H149.2M147.3 284.2H149.2M147.3 281.9H149.2M147.3 279.7H149.2M147.3 277.5H149.2M147.3 275.3H149.2M147.3 273.0H149.2M147.3 270.8H149.2M146.2 268.6H149.2M147.3 266.4H149.2M147.3 264.1H149.2M147.3 261.9H149.2M147.3 259.7H149.2M147.3 257.5H149.2M147.3 255.2H149.2M147.3 253.0H149.2M146.2 250.8H149.2M147.3 248.6H149.2M147.3 246.3H149.2M147.3 244.1H149.2M147.3 241.9H149.2M147.3 239.7H149.2M147.3 237.4H149.2M147.3 235.2H149.2M146.2 233.0H149.2M147.3 230.8H149.2M147.3 228.6H149.2M147.3 226.3H149.2M147.3 224.1H149.2M147.3 221.9H149.2M147.3 219.7H149.2M147.3 217.4H149.2M146.2 215.2H149.2M147.3 213.0H149.2M147.3 210.8H149.2M147.3 208.5H149.2M147.3 206.3H149.2M147.3 204.1H149.2M147.3 201.8H149.2M147.3 199.6H149.2M146.2 197.4H149.2" stroke="#000" stroke-width="0.85" fill="none"/>
<path d="M149.2 286.4V289.8M157.0 286.4V288.9M161.5 286.4V288.9M164.7 286.4V288.9M167.1 286.4V288.9M169.2 286.4V288.9M170.9 286.4V288.9M172.4 286.4V288.9M173.7 286.4V288.9M174.8 286.4V289.8M182.5 286.4V288.9M187.0 286.4V288.9M190.2 286.4V288.9M192.7 286.4V288.9M194.7 286.4V288.9M196.5 286.4V288.9M197.9 286.4V288.9M199.3 286.4V288.9M200.4 286.4V289.8M208.1 286.4V288.9M212.6 286.4V288.9M215.8 286.4V288.9M218.3 286.4V288.9M220.3 286.4V288.9M222.0 286.4V288.9M223.5 286.4V288.9M224.8 286.4V288.9M226.0 286.4V289.8M233.7 286.4V288.9M238.2 286.4V288.9M241.4 286.4V288.9M243.9 286.4V288.9M245.9 286.4V288.9M247.6 286.4V288.9M249.1 286.4V288.9M250.4 286.4V288.9M251.6 286.4V289.8" stroke="#000" stroke-width="0.8" fill="none"/>
<text class="yl" font-size="6.4" transform="translate(143.7 197.8) rotate(-90)" text-anchor="middle">200</text>
<text class="yl" font-size="6.4" transform="translate(143.7 215.6) rotate(-90)" text-anchor="middle">160</text>
<text class="yl" font-size="6.4" transform="translate(143.7 233.4) rotate(-90)" text-anchor="middle">120</text>
<text class="yl" font-size="6.4" transform="translate(143.7 251.2) rotate(-90)" text-anchor="middle">80</text>
<text class="yl" font-size="6.4" transform="translate(143.7 269.0) rotate(-90)" text-anchor="middle">40</text>
<text class="yl" font-size="6.4" transform="translate(143.7 286.8) rotate(-90)" text-anchor="middle">0</text>
<text class="yl" font-size="6.4" transform="translate(136.9 242.5) rotate(-90)" text-anchor="middle">Counts</text>
<text class="xl" font-size="8.4" transform="translate(144.8 298.8) scale(0.643 1)">10<tspan font-size="6.2" dx="0.8" dy="-4.6">0</tspan></text>
<text class="xl" font-size="8.4" transform="translate(170.3 298.8) scale(0.643 1)">10<tspan font-size="6.2" dx="0.8" dy="-4.6">1</tspan></text>
<text class="xl" font-size="8.4" transform="translate(195.9 298.8) scale(0.643 1)">10<tspan font-size="6.2" dx="0.8" dy="-4.6">2</tspan></text>
<text class="xl" font-size="8.4" transform="translate(221.5 298.8) scale(0.643 1)">10<tspan font-size="6.2" dx="0.8" dy="-4.6">3</tspan></text>
<text class="xl" font-size="8.4" transform="translate(247.1 298.8) scale(0.643 1)">10<tspan font-size="6.2" dx="0.8" dy="-4.6">4</tspan></text>
<text class="xl" font-size="8.4" transform="translate(199.3 305.8) scale(0.643 1)" text-anchor="middle">FL1-H</text>
</g>
<g class="plot">
<text class="tt" x="315.8" y="175.0" letter-spacing="3.6">A498</text>
<path d="M291.0 287.9L291.0 287.7L291.5 285.7L292.0 283.8L292.6 281.7L293.1 279.5L293.6 277.3L293.9 275.5L294.2 273.8L294.7 271.9L295.1 269.7L295.3 268.0L295.6 265.7L296.0 264.1L296.2 261.9L296.5 259.9L296.6 257.9L296.9 256.1L297.0 253.9L297.4 252.2L297.5 250.1L297.7 247.9L297.9 245.9L298.2 243.8L298.3 242.1L298.6 240.2L298.8 238.2L299.0 236.1L299.3 234.1L299.4 231.8L299.7 229.9L299.9 227.9L300.1 226.1L300.3 223.9L300.6 222.2L300.8 220.1L300.9 217.9L301.1 215.8L301.4 213.8L301.6 212.2L302.0 210.1L302.2 208.1L302.5 206.1L302.6 204.1L303.1 202.5L303.1 200.6L304.9 200.7L305.3 202.5L305.4 204.2L305.6 205.8L306.1 208.1L306.3 210.0L306.7 211.9L306.9 213.8L307.2 216.0L307.4 217.9L307.5 220.2L307.6 221.9L307.9 224.1L307.9 226.2L308.1 228.0L308.3 229.9L308.4 231.8L308.7 234.2L308.9 236.0L309.2 238.0L309.3 240.0L309.6 241.8L309.8 244.1L310.0 245.9L310.2 248.2L310.4 249.8L310.8 251.8L311.0 254.0L311.4 255.9L311.7 258.1L312.0 259.9L312.2 262.1L312.4 264.2L312.7 266.1L313.1 268.2L313.3 269.9L313.8 272.0L314.1 273.7L314.5 275.5L314.8 277.2L315.2 279.1L316.1 280.6L317.1 282.5L318.1 284.5L319.9 285.1L322.0 286.4L324.1 287.3L325.9 287.4L328.0 287.2L330.0 287.5L330.0 287.9Z" fill="#000" stroke="#000" stroke-width="0.15" stroke-linejoin="round"/>
<path d="M330.0 287.1L331.4 286.5L332.2 286.1L333.6 287.2L335.2 286.9L336.6 287.2L338.1 286.5L339.2 286.5L340.6 286.9L341.9 286.5L343.0 286.5L344.3 287.2L345.3 286.5L346.4 286.9L347.4 287.2L348.4 287.2L349.2 286.9L350.1 287.2L351.5 286.9L352.7 286.1L353.7 286.9L354.9 286.5L355.9 287.2L357.1 287.2L358.1 286.9L359.3 286.1L360.3 287.2L361.4 287.2L362.6 286.9L363.9 286.5L365.1 287.2L366.4 287.2L367.7 286.9L368.8 286.5L370.3 287.2L371.3 287.2L372.6 286.1L373.9 287.2L375.3 286.5L376.5 287.2L377.7 287.2L378.7 287.2L380.1 287.2L381.2 286.9L382.2 287.2L383.5 287.2L384.7 286.9L386.0 286.9" fill="none" stroke="#000" stroke-width="0.6"/>
<path d="M311.5 259.0L311.8 257.4L312.0 256.1L312.6 255.0L312.8 253.5L313.0 252.1L313.6 251.1L313.7 249.4L314.2 247.5L314.3 247.0L314.5 245.2L314.6 244.5L315.1 243.1L315.3 242.3L315.6 241.0L315.4 239.8L315.6 238.1L316.1 237.5L316.6 237.4L317.6 238.2L318.0 237.2L318.9 236.2L320.2 236.6L321.2 238.3L322.0 237.1L322.9 235.0L324.2 236.6L324.8 237.3L325.9 237.3L326.5 236.4L326.8 237.3L327.1 238.6L327.6 240.3L327.6 242.1L328.0 242.4L327.8 243.4L328.2 245.6L328.5 247.4L328.8 248.6L329.0 250.1L329.1 251.0L329.1 252.7L329.5 253.8L329.7 255.5L330.0 257.0L330.4 258.0L330.8 259.1L331.2 261.0L331.4 261.9L331.6 263.5L331.7 264.3L332.1 266.3L332.4 266.8L332.8 268.7L332.8 268.9L333.1 270.4L333.8 272.3L334.0 273.3L334.4 273.9L335.1 274.8L335.5 276.1L335.7 277.5L336.2 278.7L336.6 280.5L337.5 280.8L338.0 282.0L339.0 283.4L339.6 284.2L340.4 284.8L341.8 285.4L342.5 285.8L343.7 287.3L345.1 287.8L346.2 287.8L347.6 287.4L348.7 287.5L350.0 287.6" fill="none" stroke="#000" stroke-width="0.95" stroke-linejoin="round"/>
<path d="M313.0 280.0L314.0 279.5L314.9 278.1L315.7 276.5L316.3 275.6L317.0 274.6L317.8 274.1L318.4 273.0L318.9 272.2L319.4 270.9L319.9 269.7L320.0 268.9L320.5 266.9L321.1 265.7L321.1 265.2L321.9 262.9L321.8 261.5L322.2 261.1L322.7 258.8L322.9 257.6L323.4 256.5L323.7 256.0L324.0 254.2L324.0 253.2L324.3 251.9L324.4 251.0L324.9 249.7L325.0 248.1L325.6 246.4L325.5 245.2L326.1 244.6L326.1 242.6L326.9 241.2L326.8 240.5L327.5 238.5L327.5 237.7L327.7 235.7L327.7 234.3L327.9 233.8L328.2 232.9L328.5 230.5L329.2 229.5L329.2 228.4L329.5 227.3L329.8 225.4L330.5 224.9L331.2 222.8L332.0 223.5L332.7 224.7L332.7 226.3L333.1 228.3L333.2 229.7L333.3 231.2L333.5 231.7L334.0 233.3L334.0 234.6L334.0 236.2L334.2 237.9L334.6 238.6L334.5 240.3L334.9 241.3L334.9 242.6L335.2 244.2L335.5 245.2L335.6 246.6L335.9 247.9L335.8 249.0L336.1 250.5L336.4 251.4L336.5 253.4L336.6 254.7L336.9 256.2L337.1 257.6L337.6 259.1L337.9 259.5L338.1 260.9L338.0 263.2L338.2 264.2L338.4 265.9L338.7 266.9L338.8 267.7L339.6 268.9L339.8 270.3L340.5 272.2L340.6 273.1L341.1 274.7L341.6 275.5L342.2 276.8L342.6 278.1L343.4 279.2L344.0 280.3L344.6 282.3L344.8 283.6L346.2 284.5L347.0 284.4L348.1 285.9L349.1 287.0L350.5 287.0L351.6 287.4L353.1 287.6L354.2 287.5L355.3 287.8L356.8 287.1L358.0 287.7" fill="none" stroke="#000" stroke-width="1.6" stroke-linejoin="round"/>
<path d="M324.0 287.5L325.1 287.0L326.5 286.3L327.7 285.7L329.0 285.8L330.1 284.8L330.9 283.4L332.1 282.8L333.1 281.9L333.9 281.1L334.8 280.0L335.5 278.8L336.3 278.1L337.1 277.1L338.0 275.7L338.4 275.1L338.9 273.7L339.4 272.4L339.7 271.1L340.1 270.1L340.5 269.4L341.0 268.2L341.4 267.1L341.6 265.2L341.8 264.3L342.1 262.7L342.4 261.9L342.4 260.6L342.8 259.4L343.1 257.7L343.3 256.4L343.6 255.6L343.7 254.0L344.0 253.1L344.2 252.0L344.4 250.6L344.7 249.6L345.0 247.9L345.4 247.1L345.5 245.6L345.9 244.3L346.0 243.0L346.5 242.0L346.5 240.4L346.8 239.1L347.2 238.1L347.3 237.0L347.6 235.6L347.8 233.9L347.8 232.7L348.1 231.6L348.4 230.0L348.4 229.3L348.6 227.6L349.0 226.8L349.1 225.5L349.3 224.2L349.7 222.5L350.1 221.3L350.6 220.0L351.0 218.2L351.7 217.8L352.4 217.2L353.3 218.4L353.7 219.9L354.0 221.5L354.1 222.7L354.4 223.9L354.6 225.3L354.7 226.7L354.8 227.8L355.1 228.8L355.1 230.5L355.3 231.9L355.6 233.2L355.7 234.1L356.0 235.8L356.0 237.0L356.3 238.3L356.6 239.1L356.8 240.4L356.9 241.8L357.1 243.0L357.5 244.3L357.6 245.6L357.9 246.5L358.1 247.9L358.3 249.1L358.5 251.0L358.5 251.7L358.8 253.4L358.8 254.8L359.2 256.3L359.3 257.4L359.6 258.6L359.6 260.0L359.8 261.6L360.1 262.9L360.2 264.3L360.2 265.5L360.4 266.8L360.6 268.2L360.9 269.0L360.9 271.0L361.1 271.8L361.2 273.3L361.5 274.4L361.9 276.1L362.2 276.8L362.3 278.5L362.5 279.4L362.9 280.8L363.1 282.0L363.8 283.5L364.6 284.5L365.4 285.5L366.1 286.5L367.3 287.1L368.6 287.7L370.0 287.7" fill="none" stroke="#000" stroke-width="0.95" stroke-dasharray="1.0 0.75" stroke-linejoin="round"/>
<path d="M286.4 199.4H386.7V287.9" fill="none" stroke="#222" stroke-width="1.0"/>
<path d="M286.4 198.9V287.9" fill="none" stroke="#000" stroke-width="0.9"/>
<path d="M285.59999999999997 287.9H387.2" fill="none" stroke="#000" stroke-width="1.6"/>
<path d="M283.4 287.9H287.1M284.5 285.7H287.1M284.5 283.5H287.1M284.5 281.3H287.1M284.5 279.0H287.1M284.5 276.8H287.1M284.5 274.6H287.1M284.5 272.4H287.1M283.4 270.2H287.1M284.5 268.0H287.1M284.5 265.8H287.1M284.5 263.6H287.1M284.5 261.3H287.1M284.5 259.1H287.1M284.5 256.9H287.1M284.5 254.7H287.1M283.4 252.5H287.1M284.5 250.3H287.1M284.5 248.1H287.1M284.5 245.9H287.1M284.5 243.6H287.1M284.5 241.4H287.1M284.5 239.2H287.1M284.5 237.0H287.1M283.4 234.8H287.1M284.5 232.6H287.1M284.5 230.4H287.1M284.5 228.2H287.1M284.5 225.9H287.1M284.5 223.7H287.1M284.5 221.5H287.1M284.5 219.3H287.1M283.4 217.1H287.1M284.5 214.9H287.1M284.5 212.7H287.1M284.5 210.5H287.1M284.5 208.2H287.1M284.5 206.0H287.1M284.5 203.8H287.1M284.5 201.6H287.1M283.4 199.4H287.1" stroke="#000" stroke-width="1.15" fill="none"/>
<path d="M286.4 287.9V291.3M293.9 287.9V290.4M298.4 287.9V290.4M301.5 287.9V290.4M303.9 287.9V290.4M305.9 287.9V290.4M307.6 287.9V290.4M309.0 287.9V290.4M310.3 287.9V290.4M311.5 287.9V291.3M319.0 287.9V290.4M323.4 287.9V290.4M326.6 287.9V290.4M329.0 287.9V290.4M331.0 287.9V290.4M332.7 287.9V290.4M334.1 287.9V290.4M335.4 287.9V290.4M336.5 287.9V291.3M344.1 287.9V290.4M348.5 287.9V290.4M351.6 287.9V290.4M354.1 287.9V290.4M356.1 287.9V290.4M357.7 287.9V290.4M359.2 287.9V290.4M360.5 287.9V290.4M361.6 287.9V291.3M369.2 287.9V290.4M373.6 287.9V290.4M376.7 287.9V290.4M379.2 287.9V290.4M381.1 287.9V290.4M382.8 287.9V290.4M384.3 287.9V290.4M385.6 287.9V290.4M386.7 287.9V291.3" stroke="#000" stroke-width="0.8" fill="none"/>
<text class="yl" font-size="6.2" transform="translate(281.3 199.8) rotate(-90)" text-anchor="middle">200</text>
<text class="yl" font-size="6.2" transform="translate(281.3 217.5) rotate(-90)" text-anchor="middle">160</text>
<text class="yl" font-size="6.2" transform="translate(281.3 235.2) rotate(-90)" text-anchor="middle">120</text>
<text class="yl" font-size="6.2" transform="translate(281.3 252.9) rotate(-90)" text-anchor="middle">80</text>
<text class="yl" font-size="6.2" transform="translate(281.3 270.6) rotate(-90)" text-anchor="middle">40</text>
<text class="yl" font-size="6.2" transform="translate(281.3 288.3) rotate(-90)" text-anchor="middle">0</text>
<text class="yl" font-size="6.2" transform="translate(274.9 244.8) rotate(-90)" text-anchor="middle">Counts</text>
<text class="xl" font-size="8.1" transform="translate(281.9 299.8) scale(0.667 1)">10<tspan font-size="6.0" dx="0.7" dy="-4.5">0</tspan></text>
<text class="xl" font-size="8.1" transform="translate(307.0 299.8) scale(0.667 1)">10<tspan font-size="6.0" dx="0.7" dy="-4.5">1</tspan></text>
<text class="xl" font-size="8.1" transform="translate(332.0 299.8) scale(0.667 1)">10<tspan font-size="6.0" dx="0.7" dy="-4.5">2</tspan></text>
<text class="xl" font-size="8.1" transform="translate(357.1 299.8) scale(0.667 1)">10<tspan font-size="6.0" dx="0.7" dy="-4.5">3</tspan></text>
<text class="xl" font-size="8.1" transform="translate(382.2 299.8) scale(0.667 1)">10<tspan font-size="6.0" dx="0.7" dy="-4.5">4</tspan></text>
<text class="xl" font-size="8.1" transform="translate(335.4 306.6) scale(0.667 1)" text-anchor="middle">FL1-H</text>
</g>
<g class="plot">
<text class="tt" x="448.2" y="175.3" letter-spacing="1.15">HPAF</text>
<path d="M414.6 287.4L414.6 286.8L414.7 284.1L414.8 282.3L415.0 280.2L415.1 278.1L415.4 275.8L415.6 274.1L415.8 272.0L416.2 270.2L416.4 268.0L416.7 265.8L416.8 264.2L417.1 262.1L417.3 260.2L417.7 258.0L417.8 256.1L418.2 253.8L418.5 252.0L418.7 249.8L419.0 248.2L419.1 245.8L419.5 243.8L419.7 241.9L419.9 239.9L420.1 238.2L420.5 236.0L420.6 234.0L420.9 231.9L421.1 229.8L421.3 228.2L421.6 226.2L421.7 224.8L422.1 222.7L422.2 221.0L422.6 218.9L422.8 217.1L424.2 217.1L424.5 219.2L424.9 220.8L424.9 223.0L425.3 224.6L425.6 226.4L425.8 228.4L425.9 229.9L426.3 231.9L426.6 233.8L427.0 236.2L427.4 238.2L427.6 240.2L427.9 242.2L428.4 244.1L428.8 246.1L429.2 247.8L429.7 250.1L430.2 252.0L430.7 253.8L431.2 256.1L431.7 257.9L432.3 260.0L432.9 262.0L433.3 264.1L433.9 265.9L434.4 267.9L435.2 270.1L435.9 272.0L436.5 273.9L437.1 276.2L438.1 277.8L439.2 279.8L440.1 281.2L441.1 283.1L443.0 284.1L445.1 285.2L447.1 286.3L449.4 286.4L451.7 286.7L454.0 287.0L454.0 287.4Z" fill="#000" stroke="#000" stroke-width="0.15" stroke-linejoin="round"/>
<path d="M454.0 286.6L455.0 285.6L456.4 286.0L457.6 286.4L459.2 286.0L460.8 286.7L461.8 285.6L462.6 286.4L464.1 286.7L465.0 285.6L466.0 286.7L467.4 286.7L468.4 286.7L469.2 286.7L470.1 286.7L471.0 286.4L471.9 286.4L473.0 286.7L473.9 286.4L475.0 286.4L476.4 286.7L477.9 286.4L478.8 286.7L480.1 285.6L481.7 286.0L483.2 286.7L484.5 286.0L485.7 285.6L487.2 285.6L488.4 286.7L489.5 285.6L491.0 286.7L492.2 286.0L493.7 286.7L495.0 286.4L496.6 286.7L497.6 285.6L499.1 286.4L500.1 286.0L501.4 286.4L502.9 285.6L504.5 286.7L506.0 286.0L507.5 286.0L508.4 286.0L509.9 286.0L511.5 286.0L512.9 286.4L513.8 286.7" fill="none" stroke="#000" stroke-width="0.6"/>
<path d="M432.6 266.0L433.0 264.9L433.6 263.6L434.0 263.0L434.6 261.2L435.1 260.0L435.2 258.7L435.5 257.5L435.9 256.5L436.5 254.7L436.9 253.3L437.2 253.0L437.7 252.0L438.1 250.6L438.5 249.0L438.9 247.4L439.7 247.5L440.7 245.8L441.4 244.9L442.0 244.1L442.9 244.3L444.1 244.7L445.2 245.4L445.4 246.1L446.3 246.4L446.8 248.4L447.3 248.9L447.8 249.8L448.4 250.9L449.0 251.9L449.1 252.9L449.7 254.3L450.1 256.0L450.8 257.1L451.2 257.6L451.5 259.4L451.7 260.6L452.0 261.3L452.3 262.6L452.7 263.8L453.4 265.6L453.8 267.1L454.2 267.5L454.2 268.9L454.9 270.3L455.1 271.3L455.9 273.0L456.1 274.3L456.4 275.6L457.2 277.5L457.6 278.5L458.1 279.4L458.9 280.8L459.6 281.6L459.9 283.3L461.1 284.2L461.9 284.3L462.8 285.7L464.2 286.1L465.3 286.1L466.7 287.1L467.8 287.2L469.0 287.1" fill="none" stroke="#000" stroke-width="0.95" stroke-linejoin="round"/>
<path d="M436.0 281.0L437.0 279.8L438.1 279.8L439.0 279.0L440.0 278.4L441.2 277.1L442.7 276.7L443.3 277.0L444.3 275.5L444.8 274.6L446.2 273.9L447.7 273.7L448.6 272.3L449.4 271.9L449.8 271.4L450.6 269.9L451.4 267.9L452.3 267.6L453.2 265.6L453.5 265.3L454.3 263.5L454.6 262.9L455.6 261.3L456.1 260.1L457.0 259.1L458.0 257.2L458.9 256.8L459.9 256.4L461.0 256.8L461.9 258.0L462.4 258.7L463.9 259.7L465.1 260.3L465.8 260.8L466.5 261.8L467.7 262.7L468.9 262.8L469.8 264.2L471.3 264.0L472.4 264.7L473.8 266.1L475.0 267.3L475.3 267.8L475.9 268.5L476.6 270.0L476.9 270.7L477.5 272.5L478.1 273.3L478.5 274.4L479.1 275.4L479.6 276.1L479.8 278.1L480.4 278.5L480.8 279.5L481.8 281.2L483.2 281.5L484.0 283.0L484.9 284.1L486.2 284.7L487.5 285.6L488.9 285.8L490.5 286.3L491.7 286.8L492.6 286.8L493.9 287.4L495.2 287.7L496.4 286.9L498.0 286.9L499.0 287.2" fill="none" stroke="#000" stroke-width="1.6" stroke-linejoin="round"/>
<path d="M446.0 287.0L447.3 286.8L448.8 286.7L450.0 286.2L451.0 285.0L452.2 284.0L453.3 282.9L453.6 281.6L454.3 280.3L454.7 279.2L455.2 277.9L455.5 276.6L455.8 275.3L456.3 273.8L456.6 272.8L456.8 271.5L457.2 269.9L457.4 268.7L457.5 267.3L457.7 266.3L457.9 264.8L458.1 263.5L458.2 262.3L458.3 261.1L458.6 259.8L458.7 258.9L458.9 257.6L459.1 256.2L459.3 254.9L459.4 253.8L459.4 252.3L459.6 251.0L459.9 250.2L459.9 248.8L460.2 247.4L460.3 246.2L460.4 244.5L460.6 243.5L460.7 242.2L460.8 240.9L461.1 239.6L461.1 237.9L461.5 236.8L461.6 235.4L462.0 234.1L462.3 232.8L462.4 231.6L462.8 230.3L462.9 229.5L463.2 227.8L463.6 226.8L464.2 225.3L464.6 223.9L464.9 222.7L465.6 221.2L466.1 220.2L466.7 218.9L467.1 220.2L467.5 221.9L467.9 222.8L468.2 224.0L468.6 225.3L468.9 226.7L469.2 228.1L469.4 229.3L469.6 230.6L469.8 231.6L470.0 232.9L470.1 234.4L470.4 235.5L470.5 236.6L470.9 237.8L470.9 239.5L471.0 240.7L471.2 242.1L471.2 243.5L471.4 244.9L471.4 245.8L471.5 247.3L471.6 248.7L471.9 250.1L472.0 251.0L472.2 252.4L472.4 253.8L472.5 255.1L472.6 256.4L472.8 257.6L473.0 258.6L473.3 259.9L473.3 261.0L473.5 262.3L473.8 263.9L474.0 265.1L474.0 266.2L474.3 267.3L474.6 268.9L474.6 270.0L475.1 271.4L475.5 272.6L475.7 274.2L476.0 275.3L476.3 276.5L476.7 278.1L477.2 279.5L477.7 280.7L478.2 281.5L478.8 282.8L479.3 284.3L480.3 284.9L481.3 285.8L482.4 286.6L483.6 287.1L484.7 287.3L486.0 287.2" fill="none" stroke="#000" stroke-width="1.05" stroke-dasharray="1.4 1.2" stroke-linejoin="round"/>
<path d="M414.4 200.4H514.5V287.4" fill="none" stroke="#222" stroke-width="1.0"/>
<path d="M414.4 199.9V287.4" fill="none" stroke="#000" stroke-width="0.9"/>
<path d="M413.59999999999997 287.4H515.0" fill="none" stroke="#000" stroke-width="1.6"/>
<path d="M411.4 287.4H415.1M412.5 285.2H415.1M412.5 283.0H415.1M412.5 280.9H415.1M412.5 278.7H415.1M412.5 276.5H415.1M412.5 274.3H415.1M412.5 272.2H415.1M411.4 270.0H415.1M412.5 267.8H415.1M412.5 265.6H415.1M412.5 263.5H415.1M412.5 261.3H415.1M412.5 259.1H415.1M412.5 256.9H415.1M412.5 254.8H415.1M411.4 252.6H415.1M412.5 250.4H415.1M412.5 248.2H415.1M412.5 246.1H415.1M412.5 243.9H415.1M412.5 241.7H415.1M412.5 239.6H415.1M412.5 237.4H415.1M411.4 235.2H415.1M412.5 233.0H415.1M412.5 230.8H415.1M412.5 228.7H415.1M412.5 226.5H415.1M412.5 224.3H415.1M412.5 222.2H415.1M412.5 220.0H415.1M411.4 217.8H415.1M412.5 215.6H415.1M412.5 213.4H415.1M412.5 211.3H415.1M412.5 209.1H415.1M412.5 206.9H415.1M412.5 204.8H415.1M412.5 202.6H415.1M411.4 200.4H415.1" stroke="#000" stroke-width="1.15" fill="none"/>
<path d="M414.4 287.4V290.8M421.9 287.4V289.9M426.3 287.4V289.9M429.5 287.4V289.9M431.9 287.4V289.9M433.9 287.4V289.9M435.5 287.4V289.9M437.0 287.4V289.9M438.3 287.4V289.9M439.4 287.4V290.8M447.0 287.4V289.9M451.4 287.4V289.9M454.5 287.4V289.9M456.9 287.4V289.9M458.9 287.4V289.9M460.6 287.4V289.9M462.0 287.4V289.9M463.3 287.4V289.9M464.4 287.4V290.8M472.0 287.4V289.9M476.4 287.4V289.9M479.5 287.4V289.9M481.9 287.4V289.9M483.9 287.4V289.9M485.6 287.4V289.9M487.0 287.4V289.9M488.3 287.4V289.9M489.5 287.4V290.8M497.0 287.4V289.9M501.4 287.4V289.9M504.5 287.4V289.9M507.0 287.4V289.9M508.9 287.4V289.9M510.6 287.4V289.9M512.1 287.4V289.9M513.4 287.4V289.9M514.5 287.4V290.8" stroke="#000" stroke-width="0.8" fill="none"/>
<text class="yl" font-size="6.0" transform="translate(409.2 200.8) rotate(-90)" text-anchor="middle">200</text>
<text class="yl" font-size="6.0" transform="translate(409.2 218.2) rotate(-90)" text-anchor="middle">160</text>
<text class="yl" font-size="6.0" transform="translate(409.2 235.6) rotate(-90)" text-anchor="middle">120</text>
<text class="yl" font-size="6.0" transform="translate(409.2 253.0) rotate(-90)" text-anchor="middle">80</text>
<text class="yl" font-size="6.0" transform="translate(409.2 270.4) rotate(-90)" text-anchor="middle">40</text>
<text class="yl" font-size="6.0" transform="translate(409.2 287.8) rotate(-90)" text-anchor="middle">0</text>
<text class="yl" font-size="6.0" transform="translate(402.4 243.9) rotate(-90)" text-anchor="middle">Counts</text>
<text class="xl" font-size="7.7" transform="translate(409.9 299.2) scale(0.701 1)">10<tspan font-size="5.7" dx="0.7" dy="-4.2">0</tspan></text>
<text class="xl" font-size="7.7" transform="translate(434.9 299.2) scale(0.701 1)">10<tspan font-size="5.7" dx="0.7" dy="-4.2">1</tspan></text>
<text class="xl" font-size="7.7" transform="translate(459.9 299.2) scale(0.701 1)">10<tspan font-size="5.7" dx="0.7" dy="-4.2">2</tspan></text>
<text class="xl" font-size="7.7" transform="translate(485.0 299.2) scale(0.701 1)">10<tspan font-size="5.7" dx="0.7" dy="-4.2">3</tspan></text>
<text class="xl" font-size="7.7" transform="translate(510.0 299.2) scale(0.701 1)">10<tspan font-size="5.7" dx="0.7" dy="-4.2">4</tspan></text>
<text class="xl" font-size="7.7" transform="translate(463.3 306.2) scale(0.701 1)" text-anchor="middle">FL1-H</text>
</g>
</g></svg>
</body></html>
